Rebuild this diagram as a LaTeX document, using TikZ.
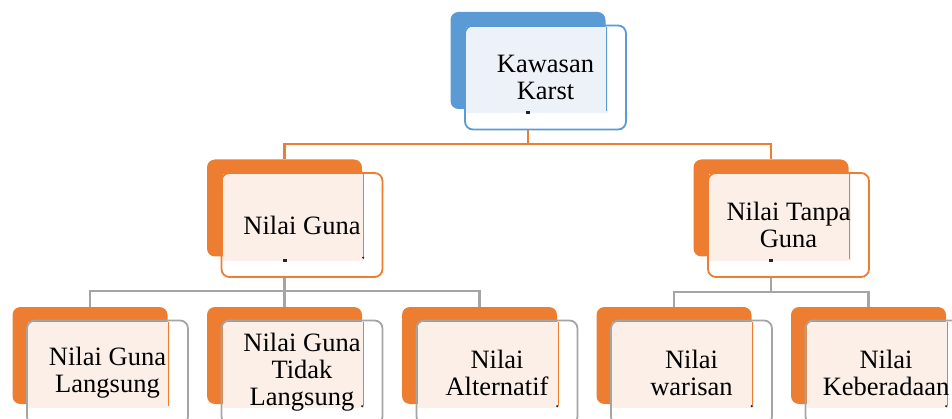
\documentclass[tikz,border=0pt]{standalone}
\usepackage{fontspec}
\setmainfont{Liberation Serif}
\usepackage{xcolor}
\definecolor{karstBlue}{HTML}{5B9BD5}
\definecolor{karstBlueLight}{HTML}{EDF2F9}
\definecolor{karstOrange}{HTML}{ED7D31}
\definecolor{karstOrangeLight}{HTML}{FBEFE8}
\definecolor{karstGray}{HTML}{A5A5A5}
\definecolor{karstDark}{HTML}{262626}
\usepackage{tikz}
\usetikzlibrary{positioning,backgrounds,calc}
\tikzset{
    backbox/.style={
        rectangle,
        rounded corners=8pt,
        minimum width=155pt,
        minimum height=97pt,
        inner sep=0pt
    },
    frontbox/.style={
        rectangle,
        rounded corners=8pt,
        line width=1.8pt,
        align=center,
        minimum width=161pt,
        minimum height=104pt,
        inner sep=0pt,
        font=\fontsize{26.5}{27}\selectfont
    },
    orangeline/.style={
        line width=2.2pt,
        color=karstOrange
    },
    grayline/.style={
        line width=2.2pt,
        color=karstGray
    },
    speck/.style={
        fill=karstDark
    }
}
% card: name, position, back colour, fill colour, outline colour, text
\newcommand{\cardbox}[6]{%
    \node[backbox, fill=#3] (#1Bg) at (#2) {};
    \fill[#4] ([shift={(16pt,-15pt)}]#1Bg.north west) rectangle ([shift={(2pt,-4pt)}]#1Bg.south east);
    \draw[#3, line width=1.2pt] ([shift={(1pt,-15pt)}]#1Bg.north east) -- ([shift={(1pt,-2pt)}]#1Bg.south east);
    \node[frontbox, draw=#5] (#1) at ([shift={(17.5pt,-17pt)}]#1Bg.center) {#6};
}

\begin{document}
\begin{tikzpicture}[x=1pt,y=-1pt]
    \useasboundingbox (0,0) rectangle (952,419);
    \clip (0,0) rectangle (952,419);

    % Top
    \cardbox{kawasan}{528,60.5}{karstBlue}{karstBlueLight}{karstBlue}{Kawasan\\Karst}

    % Level 1
    \cardbox{guna}{284.5,208}{karstOrange}{karstOrangeLight}{karstOrange}{Nilai Guna}
    \cardbox{tanpa}{771,208}{karstOrange}{karstOrangeLight}{karstOrange}{Nilai Tanpa\\Guna}

    % Level 2
    \cardbox{langsung}{90,355.5}{karstOrange}{karstOrangeLight}{karstGray}{Nilai Guna\\Langsung}
    \cardbox{tidak}{284.5,355.5}{karstOrange}{karstOrangeLight}{karstGray}{Nilai Guna\\Tidak\\Langsung}
    \cardbox{alternatif}{479.5,355.5}{karstOrange}{karstOrangeLight}{karstGray}{Nilai\\Alternatif}
    \cardbox{warisan}{674,355.5}{karstOrange}{karstOrangeLight}{karstGray}{Nilai\\warisan}
    \cardbox{keberadaan}{868.5,355.5}{karstOrange}{karstOrangeLight}{karstGray}{Nilai\\Keberadaan}

    % Small marks
    \fill[speck] ([shift={(-2pt,-2pt)}]kawasanBg.south) rectangle ++(4,3);
    \fill[speck] ([shift={(-2pt,-2pt)}]gunaBg.south) rectangle ++(4,3);
    \fill[speck] ([shift={(-2pt,-2pt)}]tanpaBg.south) rectangle ++(4,3);
    \fill[speck] ([shift={(1pt,-1pt)}]gunaBg.south east) circle (1.2);
    \foreach \n in {tidak,alternatif,warisan,keberadaan}
        \fill[speck] ([shift={(0pt,-2pt)}]\n Bg.south east) circle (1.2);

    % Connectors
    \begin{scope}[on background layer]
        \draw[orangeline] (kawasanBg.center |- kawasan.south) -- ++(0,14) coordinate (busTop)
            -| (gunaBg.north) (busTop) -| (tanpaBg.north);
        \draw[grayline] (gunaBg.center |- guna.south) -- ++(0,13) coordinate (busGuna)
            -| (langsungBg.north) (busGuna) -| (alternatifBg.north) (busGuna) -- (tidakBg.north);
        \draw[grayline] (tanpaBg.center |- tanpa.south) -- ++(0,14) coordinate (busTanpa)
            -| (warisanBg.north) (busTanpa) -| (keberadaanBg.north);
    \end{scope}
\end{tikzpicture}
\end{document}
